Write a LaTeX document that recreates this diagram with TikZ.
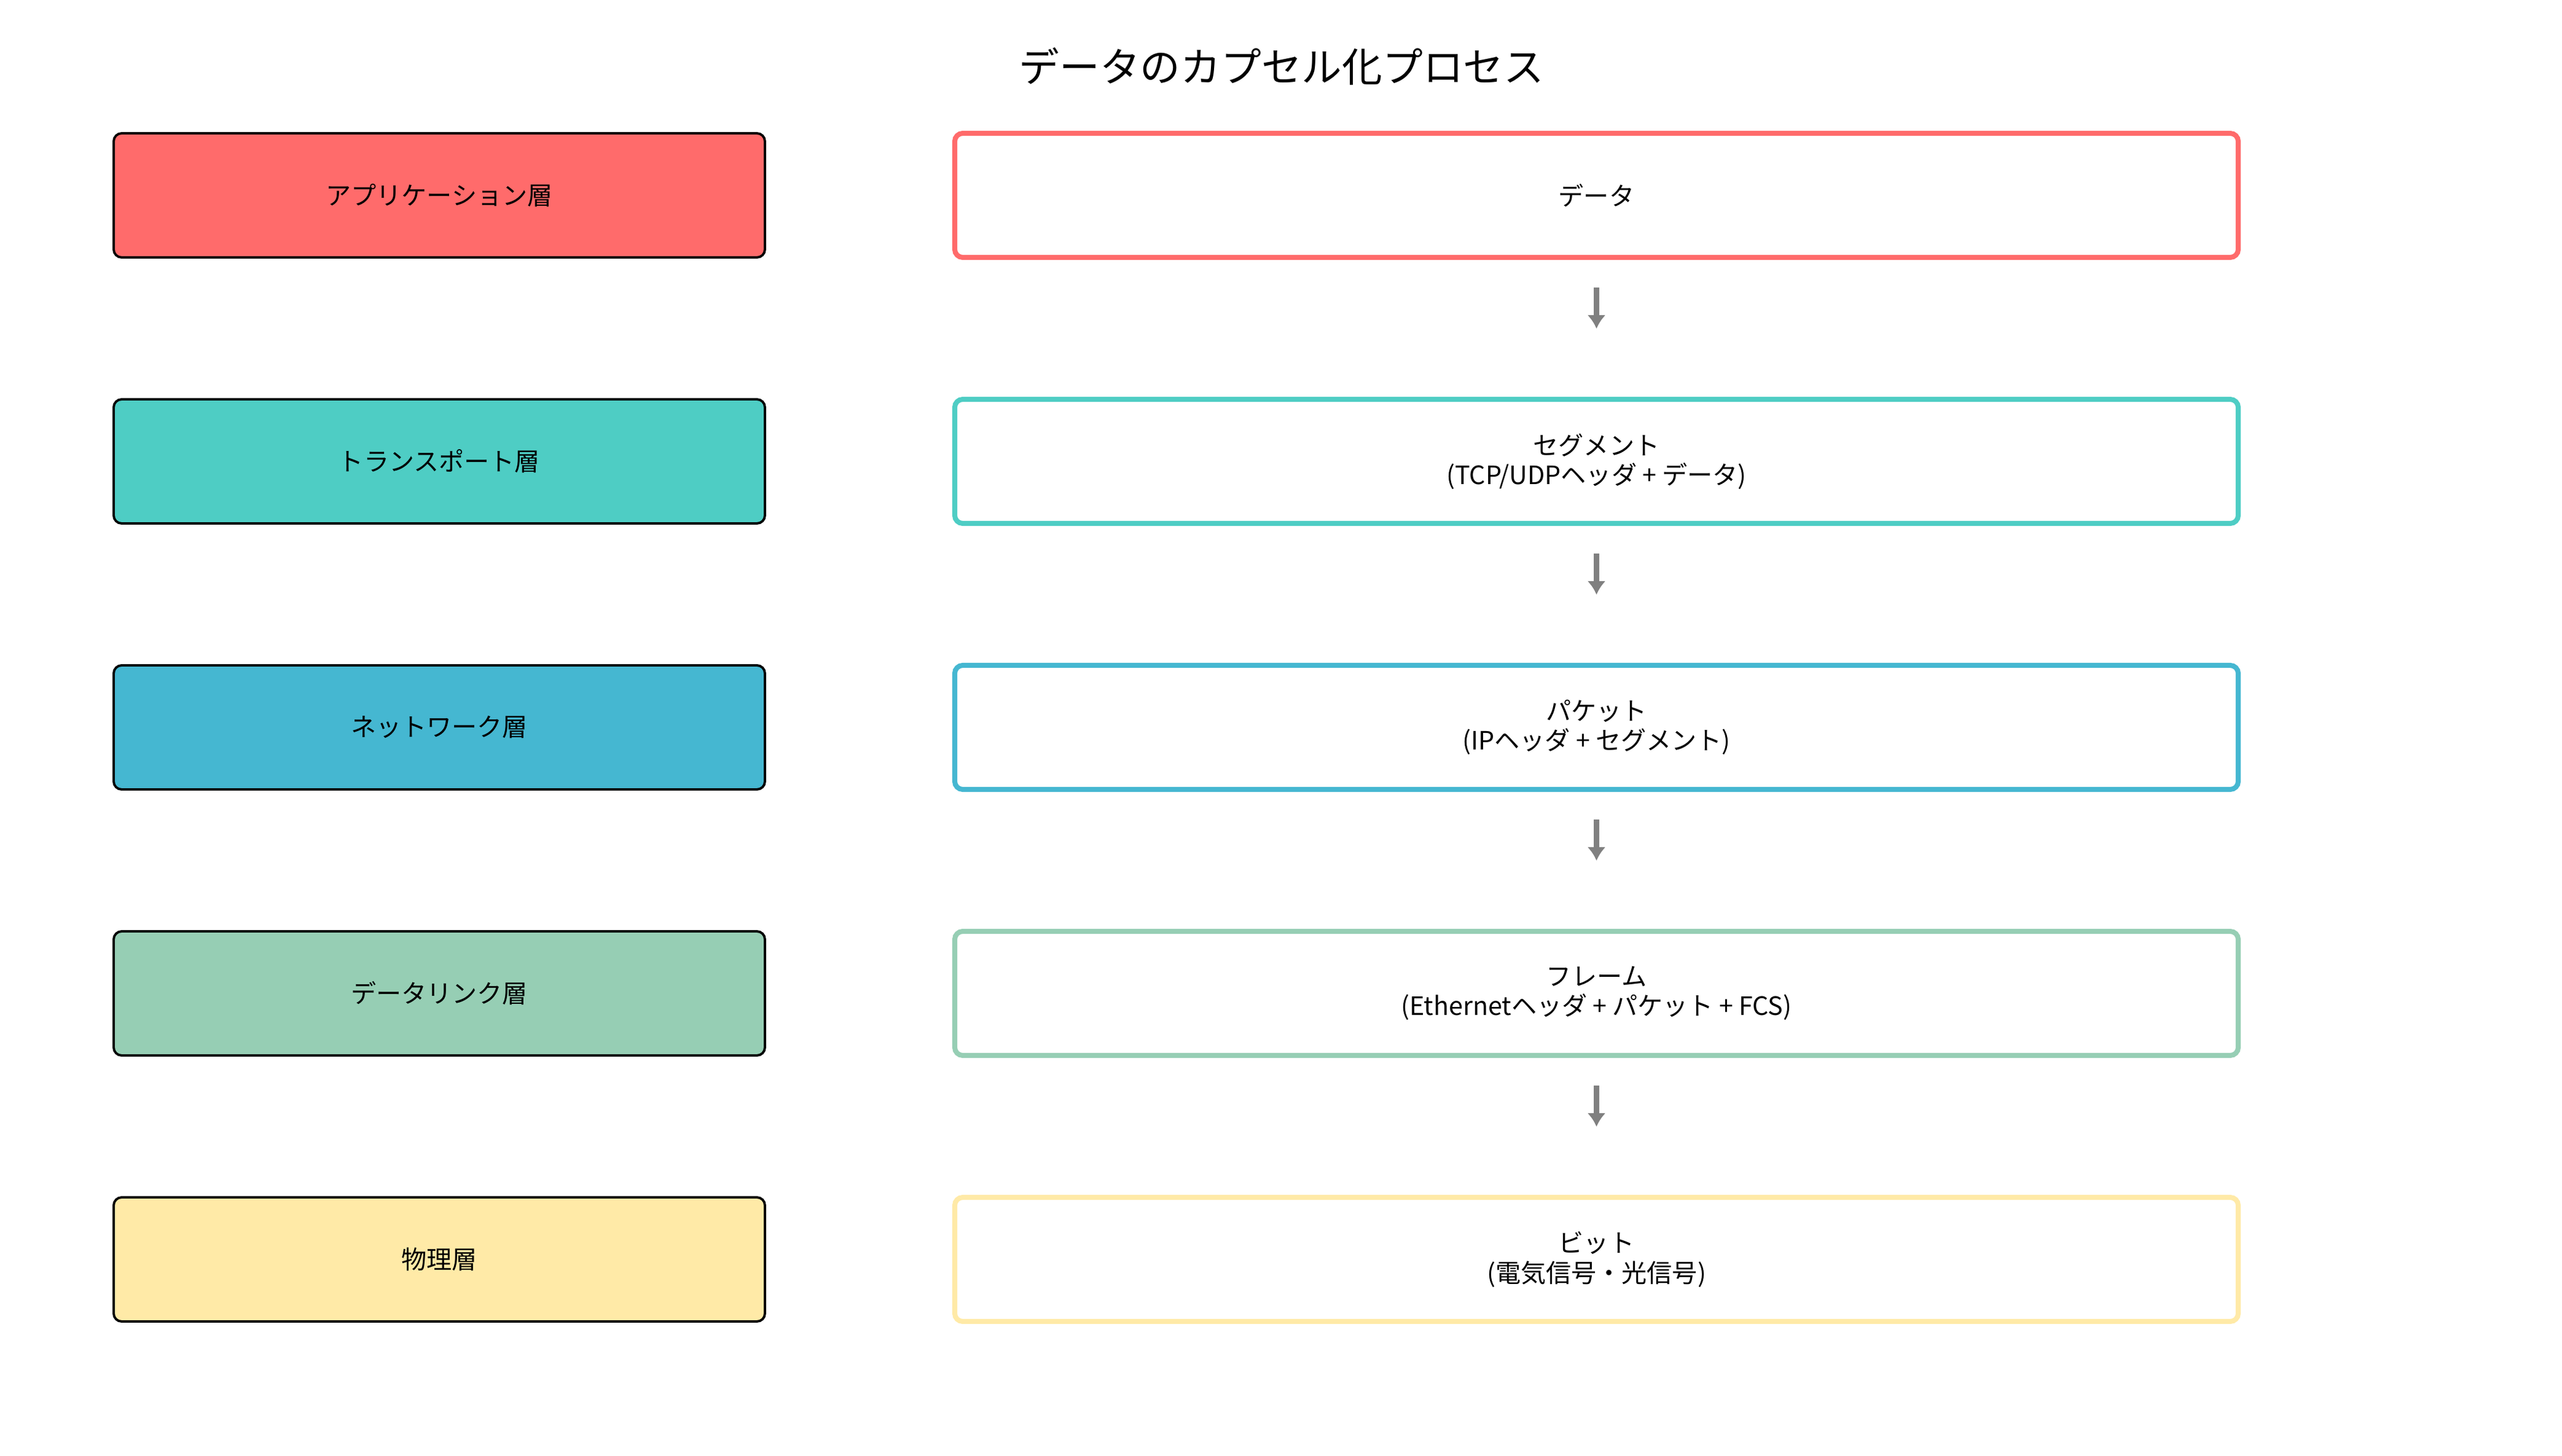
\documentclass[tikz,border=0pt]{standalone}
\usepackage{fontspec}
\setmainfont{Noto Sans CJK JP}
\usepackage{tikz}
\usetikzlibrary {arrows.meta}

\definecolor{appcol}{HTML}{FF6B6B}
\definecolor{transcol}{HTML}{4ECDC4}
\definecolor{netcol}{HTML}{45B7D1}
\definecolor{linkcol}{HTML}{96CEB4}
\definecolor{physcol}{HTML}{FFEAA7}
\definecolor{flowcol}{HTML}{808080}

\tikzset{
  layer/.style={draw=black, line width=1.1pt, rounded corners=0.13cm,
    minimum width=10.6cm, minimum height=2.02cm,
    font=\fontsize{11.7pt}{13.7pt}\selectfont},
  unit/.style={draw, fill=white, line width=2.3pt, rounded corners=0.13cm,
    minimum width=20.89cm, minimum height=2.02cm, align=center,
    font=\fontsize{11.7pt}{13.7pt}\selectfont},
  flow/.style={draw=flowcol, line width=2.3pt, -{Latex[length=0.22cm,width=0.3cm]},
    shorten <=0.45cm, shorten >=1.11cm}
}

\begin{document}
\begin{tikzpicture}
\useasboundingbox (0,0) rectangle (41.7,-23.7);
\path (20.86,-1.08) node (title) {\fontsize{18.7pt}{22pt}\selectfont データのカプセル化プロセス};

\path (7.15,-3.18) node (app) [layer, fill=appcol] {アプリケーション層};
\path (7.15,-7.51) node (trans) [layer, fill=transcol] {トランスポート層};
\path (7.15,-11.84) node (net) [layer, fill=netcol] {ネットワーク層};
\path (7.15,-16.17) node (link) [layer, fill=linkcol] {データリンク層};
\path (7.15,-20.50) node (phys) [layer, fill=physcol] {物理層};

\path (25.985,-3.18) node (data) [unit, draw=appcol] {データ};
\path (25.985,-7.51) node (segment) [unit, draw=transcol] {セグメント\\(TCP/UDPヘッダ + データ)};
\path (25.985,-11.84) node (packet) [unit, draw=netcol] {パケット\\(IPヘッダ + セグメント)};
\path (25.985,-16.17) node (frame) [unit, draw=linkcol] {フレーム\\(Ethernetヘッダ + パケット + FCS)};
\path (25.985,-20.50) node (bit) [unit, draw=physcol] {ビット\\(電気信号・光信号)};

\draw[flow] (data) -- (segment);
\draw[flow] (segment) -- (packet);
\draw[flow] (packet) -- (frame);
\draw[flow] (frame) -- (bit);
\end{tikzpicture}
\end{document}
